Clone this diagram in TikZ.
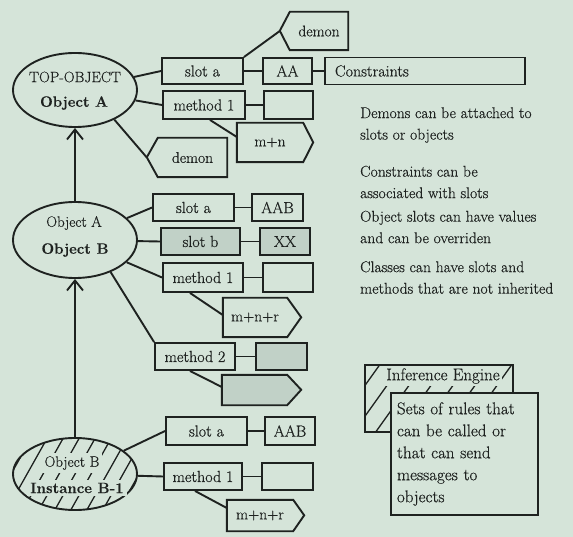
\documentclass[tikz,border=0pt]{standalone}
\usepackage{fontspec}
\setmainfont{Latin Modern Roman}[FakeBold=0.45, BoldFeatures={FakeBold=0.2}]
\usetikzlibrary{arrows.meta,shapes.geometric}

\definecolor{paper}{RGB}{213,228,217}
\definecolor{ink}{RGB}{30,34,32}
\definecolor{stipple}{RGB}{193,209,199}

\tikzset{
  lnk/.style={draw=ink, line width=1.9pt},
  objshape/.style={ellipse, draw=ink, line width=1.9pt, fill=paper,
    minimum width=124pt, minimum height=74pt, inner sep=0pt},
  cell/.style={rectangle, draw=ink, line width=1.9pt, fill=paper, inner sep=0pt,
    text=ink, font=\fontsize{16}{19}\selectfont},
  grain cell/.style={cell, fill=stipple},
  tag/.style={inner sep=0pt, text=ink, font=\fontsize{15.5}{19}\selectfont},
  title/.style={inner sep=0pt, text=ink, font=\fontsize{15}{18}\selectfont},
  boldtitle/.style={inner sep=0pt, text=ink, font=\fontsize{15}{18}\selectfont\bfseries},
  note/.style={inner sep=0pt, text=ink, align=left, anchor=west,
    font=\fontsize{15.6}{21.5}\selectfont},
  hatch/.style={draw=ink, line width=1.3pt},
  inherit/.style={lnk, -{Straight Barb[length=10pt,width=16pt,line width=1.9pt]}},
}

\begin{document}
\begin{tikzpicture}[x=1pt,y=-1pt]
\fill[paper] (0,0) rectangle (573,537);
\useasboundingbox (0,0) rectangle (573,537);

% ---------- TOP-OBJECT / Object A ----------
\node[objshape] (tA) at (75,90) {};
\node[title] (tAa) at (75,77) {TOP-OBJECT};
\node[boldtitle] (tAb) at (74,103) {Object A};

\node[cell, minimum width=81pt, minimum height=26pt] (s1a) at (202.5,71) {slot a};
\node[cell, minimum width=49pt, minimum height=26pt] (v1a) at (287.5,71) {AA};
\node[cell, minimum width=200pt, minimum height=27pt, text width=180pt, align=left] (cons) at (425,71) {Constraints};
\node[cell, minimum width=82pt, minimum height=28pt] (m1a) at (204,105) {method 1};
\node[cell, minimum width=49pt, minimum height=28pt] (v1b) at (288.5,105) {};

% m+n tag, pointing right
\node[tag, minimum width=66pt, minimum height=39pt] (mn1) at (270,142.5) {m+n};
\draw[lnk] (mn1.north west) -- (mn1.north east) -- ++(10,19.5) -- (mn1.south east) -- (mn1.south west) -- cycle;

% demon tags, pointing left
\node[tag, minimum width=58pt, minimum height=38pt] (dm1) at (319,31) {demon};
\draw[lnk] (dm1.north east) -- (dm1.north west) -- ++(-10,19) -- (dm1.south west) -- (dm1.south east) -- cycle;
\coordinate (dm1tip) at ([xshift=-10pt]dm1.west);

\node[tag, minimum width=69pt, minimum height=39pt] (dm2) at (192.5,157.5) {demon};
\draw[lnk] (dm2.north east) -- (dm2.north west) -- ++(-11,19.5) -- (dm2.south west) -- (dm2.south east) -- cycle;
\coordinate (dm2tip) at ([xshift=-11pt]dm2.west);

\draw[lnk] (tA) -- (s1a.west);
\draw[lnk] (tA) -- (m1a.west);
\draw[lnk] (tA.-37) -- (dm2tip);
\draw[lnk] (s1a) -- (v1a);
\draw[lnk] (v1a) -- (cons);
\draw[lnk] (s1a.north east) -- (dm1tip);
\draw[lnk] (m1a) -- (v1b);
\draw[lnk] ([xshift=6pt]m1a.south) -- ([yshift=5.5pt]mn1.west);

% ---------- Object A / Object B ----------
\node[objshape, minimum height=76pt] (oB) at (75,240) {};
\node[title] (oBa) at (74,223) {Object A};
\node[boldtitle] (oBb) at (75,250) {Object B};

\node[cell, minimum width=81pt, minimum height=27pt] (s2a) at (193.5,207.5) {slot a};
\node[cell, minimum width=51pt, minimum height=27pt] (v2a) at (277.5,207.5) {AAB};
\node[grain cell, minimum width=79pt, minimum height=27pt] (s2b) at (200.5,241.5) {slot b};
\node[grain cell, minimum width=50pt, minimum height=27pt] (v2b) at (285,241.5) {XX};
\node[cell, minimum width=80pt, minimum height=29pt] (m2a) at (203,277.5) {method 1};
\node[cell, minimum width=50pt, minimum height=29pt] (v2c) at (288,277.5) {};

\node[tag, minimum width=64pt, minimum height=39pt] (mn2) at (255,317.5) {m+n+r};
\draw[lnk] (mn2.north west) -- (mn2.north east) -- ++(14,19.5) -- (mn2.south east) -- (mn2.south west) -- cycle;

\node[cell, minimum width=80pt, minimum height=27pt] (m2b) at (195,356.5) {method 2};
\node[grain cell, minimum width=51pt, minimum height=27pt] (v2d) at (281.5,356.5) {};

\node[tag, minimum width=65pt, minimum height=30pt] (mt2) at (254.5,390) {};
\draw[lnk, fill=stipple] (mt2.north west) -- (mt2.north east) -- ++(14,15) -- (mt2.south east) -- (mt2.south west) -- cycle;

\draw[lnk] (oB) -- (s2a.west);
\draw[lnk] (oB) -- (s2b.west);
\draw[lnk] (oB) -- (m2a.west);
\draw[lnk] (oB.-42) -- (m2b.north west);
\draw[lnk] (s2a) -- (v2a);
\draw[lnk] (s2b) -- (v2b);
\draw[lnk] (m2a) -- (v2c);
\draw[lnk] (m2b) -- (v2d);
\draw[lnk] ([xshift=-13pt]m2a.south) -- ([yshift=2.5pt]mn2.west);
\draw[lnk] ([xshift=-5pt]m2b.south) -- ([yshift=3pt]mt2.west);

% ---------- Object B / Instance B-1 (hatched) ----------
\begin{scope}
  \clip (75,474) ellipse [x radius=62, y radius=36];
  \foreach \x in {-44,-28,...,160} \draw[hatch] (\x,515) -- (\x+45,435);
\end{scope}
\node[objshape, fill=none, minimum height=72pt] (iB) at (75,474) {};
\node[title, fill=paper, inner sep=3pt] (iBa) at (72,463) {Object B};
\node[boldtitle, fill=paper, inner sep=3pt] (iBb) at (77,488) {Instance B-1};

\node[cell, minimum width=81pt, minimum height=28pt] (s3a) at (206.5,431) {slot a};
\node[cell, minimum width=50pt, minimum height=28pt] (v3a) at (290,431) {AAB};
\node[cell, minimum width=78pt, minimum height=27pt] (m3a) at (203,476.5) {method 1};
\node[cell, minimum width=51pt, minimum height=27pt] (v3b) at (287.5,476.5) {};

\node[tag, minimum width=66pt, minimum height=31pt] (mn3) at (260,515.5) {m+n+r};
\draw[lnk] (mn3.north west) -- (mn3.north east) -- ++(11,15.5) -- (mn3.south east) -- (mn3.south west) -- cycle;

\draw[lnk] (iB) -- (s3a.west);
\draw[lnk] (iB) -- (m3a.west);
\draw[lnk] (s3a) -- (v3a);
\draw[lnk] (m3a) -- (v3b);
\draw[lnk] ([xshift=-8pt]m3a.south) -- ([yshift=7.5pt]mn3.west);

% inheritance arrows
\draw[inherit] (iB) -- (oB);
\draw[inherit] (oB) -- (tA);

% ---------- notes ----------
\node[note] (n1) at (360,125) {Demons can be attached to\\slots or objects};
\node[note] (n2) at (360,182) {Constraints can be\\associated with slots};
\node[note] (n3) at (360,227) {Object slots can have values\\and can be overriden};
\node[note] (n4) at (360,277.5) {Classes can have slots and\\methods that are not inherited};

% ---------- inference engine ----------
\begin{scope}
  \clip (365,365) rectangle (513,432);
  \foreach \x in {282,304,...,520} \draw[hatch] (\x,440) -- (\x+60,356);
\end{scope}
\node[rectangle, draw=ink, line width=1.9pt, minimum width=148pt, minimum height=67pt, inner sep=0pt] (ie) at (439,398.5) {};
\node[tag, fill=paper, inner sep=2pt, font=\fontsize{17}{20}\selectfont] (iet) at (443,376) {Inference Engine};
\node[cell, minimum width=147pt, minimum height=122pt, text width=135pt, align=left,
      font=\fontsize{17}{22}\selectfont] (rules) at (464.5,454)
  {Sets of rules that\\can be called or\\that can send\\messages to\\objects};
\end{tikzpicture}
\end{document}
